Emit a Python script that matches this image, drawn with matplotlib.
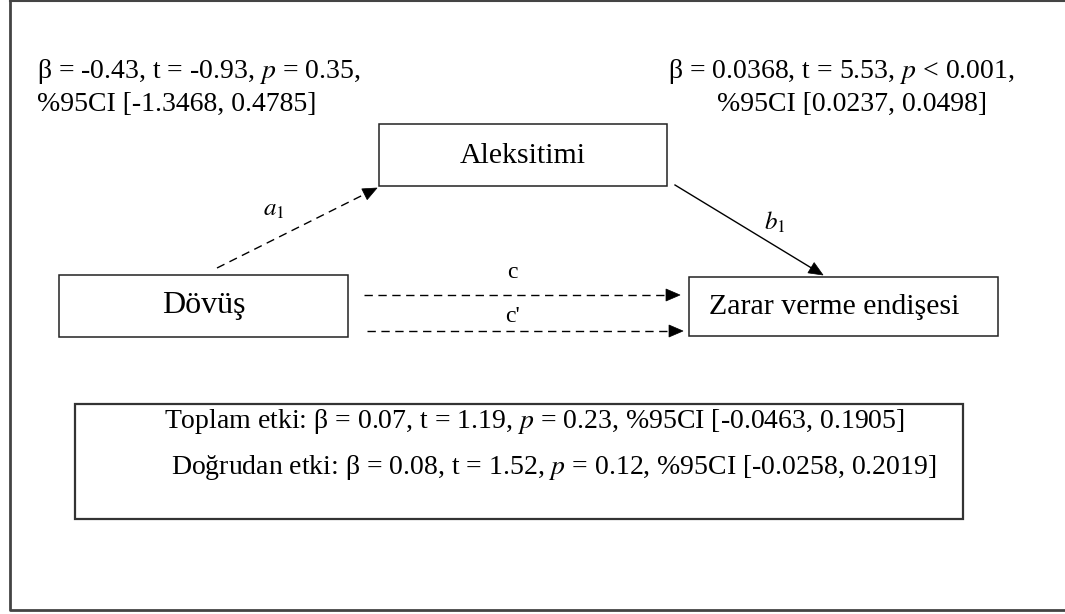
import matplotlib
matplotlib.use("Agg")
import matplotlib.pyplot as plt
from matplotlib.patches import Rectangle, Polygon
import numpy as np

plt.rcParams['font.family'] = ['Liberation Serif', 'DejaVu Serif']
plt.rcParams['mathtext.fontset'] = 'stix'

# ---- content ----
node_labels = ["Dövüş", "Aleksitimi", "Zarar verme endişesi"]
path_labels = [r"$a_1$", r"$b_1$", "c", "c'"]
a_path_stats = ["β = -0.43, t = -0.93, $p$ = 0.35,", "%95CI [-1.3468, 0.4785]"]
b_path_stats = ["β = 0.0368, t = 5.53, $p$ < 0.001,", "%95CI [0.0237, 0.0498]"]
effect_lines = ["Toplam etki: β = 0.07, t = 1.19, $p$ = 0.23, %95CI [-0.0463, 0.1905]",
                "Doğrudan etki: β = 0.08, t = 1.52, $p$ = 0.12, %95CI [-0.0258, 0.2019]"]

W, H = 1065, 614
fig = plt.figure(figsize=(W / 100, H / 100), dpi=100)
ax = fig.add_axes([0, 0, 1, 1])
ax.set_xlim(0, W)
ax.set_ylim(H, 0)
ax.axis('off')

# outer frame
ax.plot([10, 10, 1070], [1, 610, 610], color='#444444', lw=2.0, solid_capstyle='butt')
ax.plot([10, 1070], [1, 1], color='#444444', lw=1.5)

def box(x0, y0, x1, y1, lw=1.1, color='#222222'):
    ax.add_patch(Rectangle((x0, y0), x1 - x0, y1 - y0, fill=False, lw=lw, ec=color))

box(59, 275, 348, 337)
box(379, 124, 667, 186)
box(689, 277, 998, 336)
box(75, 404, 963, 519, lw=1.6, color='#333333')

ax.text(204, 305, node_labels[0], ha='center', va='center', fontsize=23)
ax.text(523, 156, node_labels[1], ha='center', va='center', fontsize=21.5)
ax.text(834, 307, node_labels[2], ha='center', va='center', fontsize=21.5)

fs = 20
ax.text(37, 72, a_path_stats[0], ha='left', va='center', fontsize=fs)
ax.text(37, 104, a_path_stats[1], ha='left', va='center', fontsize=fs)
ax.text(841, 72, b_path_stats[0], ha='center', va='center', fontsize=fs)
ax.text(852, 104, b_path_stats[1], ha='center', va='center', fontsize=fs)

ax.text(534, 422, effect_lines[0], ha='center', va='center', fontsize=20)
ax.text(554, 468, effect_lines[1], ha='center', va='center', fontsize=20)

def arrow(x0, y0, x1, y1, dashed, hl=14, hw=12):
    d = np.array([x1 - x0, y1 - y0], float)
    L = np.hypot(*d)
    u = d / L
    n = np.array([-u[1], u[0]])
    base = np.array([x1, y1]) - u * hl
    ax.plot([x0, base[0]], [y0, base[1]], color='black', lw=1.0,
            linestyle=(0, (6, 4)) if dashed else '-')
    tri = [np.array([x1, y1]), base + n * hw / 2, base - n * hw / 2]
    ax.add_patch(Polygon(tri, closed=True, fc='black', ec='black', lw=0.5))

arrow(217, 268, 377, 188, True)
arrow(675, 185, 823, 275, False)
arrow(364, 295, 680, 295, True)
arrow(367, 331, 683, 331, True)

ax.text(274, 210, path_labels[0], ha='center', va='center', fontsize=18)
ax.text(775, 222, path_labels[1], ha='center', va='center', fontsize=18)
ax.text(512, 278, path_labels[2], ha='center', va='baseline', fontsize=17)
ax.text(512, 322, path_labels[3], ha='center', va='baseline', fontsize=17)

fig.savefig('out.png', dpi=100, facecolor='white')
